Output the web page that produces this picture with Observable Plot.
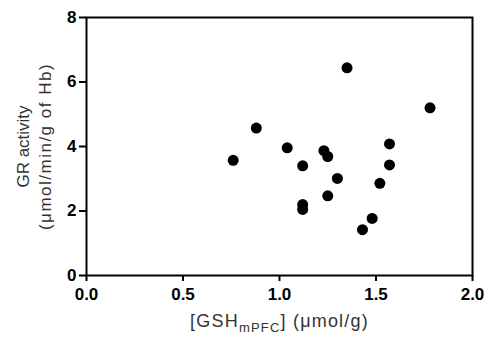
<!DOCTYPE html>
<html><head><meta charset="utf-8">
<script src="https://cdn.jsdelivr.net/npm/d3@7"></script>
<script src="https://cdn.jsdelivr.net/npm/@observablehq/plot@0.6"></script>
<style>body{margin:0;background:#fff}</style>
</head><body><div id="chart"></div>
<script>
const gsh = [0.76, 0.88, 1.04, 1.12, 1.12, 1.12, 1.23, 1.25, 1.25, 1.30, 1.35, 1.43, 1.48, 1.52, 1.57, 1.57, 1.78];
const gr  = [3.57, 4.57, 3.96, 3.40, 2.20, 2.05, 3.87, 3.69, 2.47, 3.01, 6.44, 1.42, 1.77, 2.86, 4.08, 3.43, 5.20];
const xTicks = [0, 0.5, 1.0, 1.5, 2.0];
const yTicks = [0, 2, 4, 6, 8];
const yLabel1 = "GR activity";
const yLabel2 = "(μmol/min/g of Hb)";
const xLabelMain = "[GSH";
const xLabelSub = "mPFC";
const xLabelEnd = "] (μmol/g)";
const xLabelFull = xLabelMain + xLabelSub + xLabelEnd;

const data = gsh.map((x, i) => ({x, y: gr[i]}));

const chart = Plot.plot({
  width: 488, height: 341,
  marginLeft: 86, marginRight: 16, marginTop: 17, marginBottom: 66,
  style: {fontFamily: "'Liberation Sans', Arial, sans-serif", background: "#fff", color: "#000"},
  x: {domain: [0, 2]},
  y: {domain: [0, 8]},
  marks: [
    Plot.frame({stroke: "#000", strokeWidth: 2}),
    Plot.axisX({ticks: xTicks, tickSize: 6, tickPadding: 6, tickFormat: d => d.toFixed(1), fontSize: 17, fontWeight: "bold", label: null, strokeWidth: 2}),
    Plot.axisY({ticks: yTicks, tickSize: 7, tickPadding: 3, tickFormat: d => String(d), fontSize: 17, fontWeight: "bold", label: null, strokeWidth: 2}),
    Plot.dot(data, {x: "x", y: "y", r: 5.5, fill: "#000", stroke: null}),
    Plot.text([yLabel1], {frameAnchor: "left", textAnchor: "middle", rotate: -90, dx: -63, text: d => d, fontSize: 17, fill: "#333"}),
    Plot.text([yLabel2], {frameAnchor: "left", textAnchor: "middle", rotate: -90, dx: -41, text: d => d, fontSize: 17, fill: "#333"}),
    Plot.text([xLabelFull], {frameAnchor: "bottom", textAnchor: "middle", dy: 51, text: d => d, fontSize: 18, fill: "#333"})
  ]
});

chart.querySelectorAll("text").forEach(t => {
  if (t.textContent === yLabel2) t.setAttribute("letter-spacing", "1.5");
  if (t.textContent === xLabelFull) {
    t.textContent = "";
    t.setAttribute("letter-spacing", "1.2");
    const ns = "http://www.w3.org/2000/svg";
    const a = document.createElementNS(ns, "tspan"); a.textContent = xLabelMain;
    const b = document.createElementNS(ns, "tspan"); b.textContent = xLabelSub;
    b.setAttribute("font-size", 13); b.setAttribute("dy", 5);
    const c = document.createElementNS(ns, "tspan"); c.textContent = xLabelEnd;
    c.setAttribute("dy", -5);
    t.append(a, b, c);
  }
});
document.getElementById("chart").append(chart);
</script>
</body></html>
